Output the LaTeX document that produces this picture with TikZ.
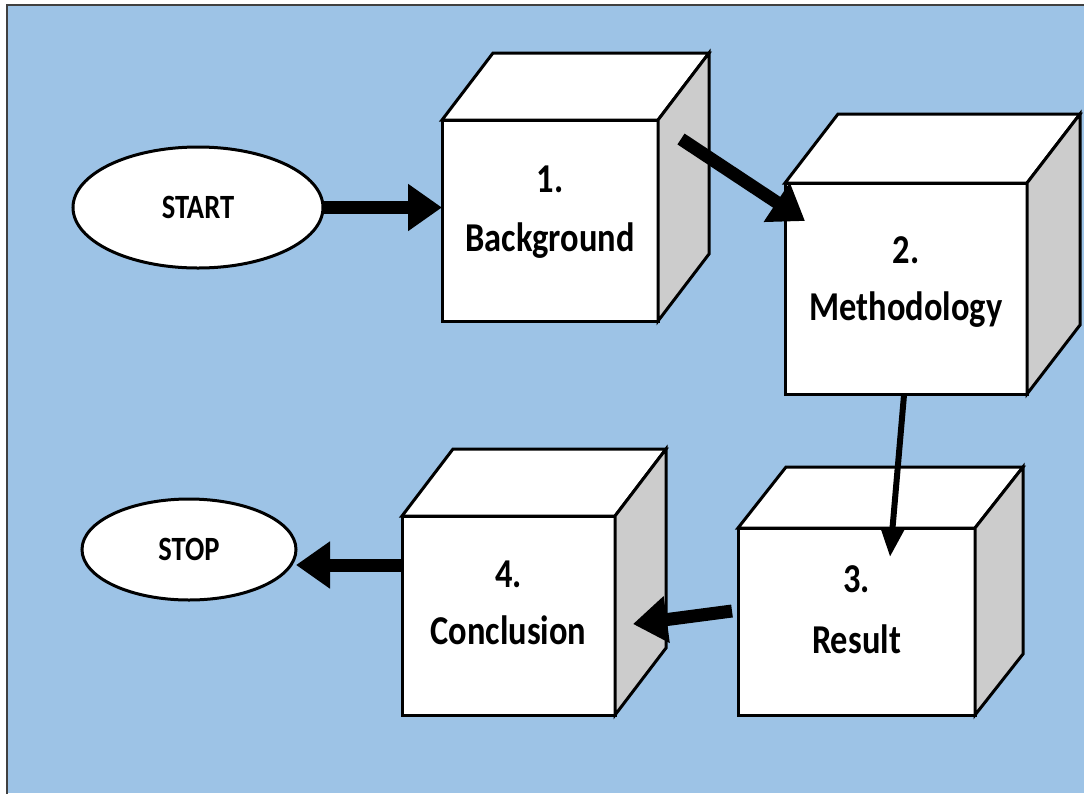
\documentclass[tikz,border=0pt]{standalone}
\usepackage{fontspec}
\newfontfamily\diagfont[FakeStretch=0.84]{Carlito}
\usetikzlibrary{arrows.meta,shapes.geometric,calc}

\definecolor{bgblue}{RGB}{157,195,230}
\definecolor{sidegray}{RGB}{204,204,204}
\definecolor{framegray}{RGB}{64,64,64}

\tikzset{
  frontface/.style={rectangle, draw=black, fill=white, line width=3pt, inner sep=0pt, outer sep=0pt},
  topface/.style={draw=black, fill=white, line width=3pt},
  sideface/.style={draw=black, fill=sidegray, line width=3pt},
  terminal/.style={ellipse, draw=black, fill=white, line width=3pt, inner sep=0pt, outer sep=0pt,
    font=\diagfont\bfseries\fontsize{34}{40}\selectfont},
  boxtext/.style={anchor=base, inner sep=0pt, font=\diagfont\bfseries\fontsize{41}{48}\selectfont},
  bigarrow/.style={line width=13pt, -{Triangle[length=34pt,width=45pt]}},
  thinarrow/.style={line width=6pt, -{Triangle[length=28pt,width=22pt]}},
}

% cube: name, centre x, centre y, width, height, depth dx, depth dy
\newcommand\cubebox[7]{%
  \node[frontface, minimum width=#4pt, minimum height=#5pt] (#1) at (#2,#3) {};
  \filldraw[topface] (#1.north west) -- ++(#6,#7) -- ($(#1.north east)+(#6,#7)$) -- (#1.north east) -- cycle;
  \filldraw[sideface] (#1.north east) -- ++(#6,#7) -- ($(#1.south east)+(#6,#7)$) -- (#1.south east) -- cycle;
}

\begin{document}
\begin{tikzpicture}[x=1pt,y=-1pt]
  \useasboundingbox (0,0) rectangle (1084,793);

  % panel
  \fill[bgblue] (7,5) rectangle (1084,793);
  \draw[framegray, line width=2pt] (7,794) -- (7,5) -- (1085,5);

  % terminals
  \node[terminal, minimum width=250pt, minimum height=121pt] (start) at (198,207.5) {START};
  \node[terminal, minimum width=214pt, minimum height=101pt] (stop) at (189,549.5) {STOP};

  % process cubes
  \cubebox{b1}{550}{220.5}{216}{201}{51}{-67}
  \cubebox{b2}{906}{288.5}{242}{211}{53}{-69}
  \cubebox{b3}{856.5}{621.5}{237}{187}{48}{-61}
  \cubebox{b4}{508.5}{615.5}{213}{199}{51}{-67}

  \node[boxtext] (b1num) at (550,192) {1.};
  \node[boxtext] (b1txt) at (550,251) {Background};
  \node[boxtext] (b2num) at (906,263) {2.};
  \node[boxtext] (b2txt) at (906,320) {Methodology};
  \node[boxtext] (b3num) at (856.5,592) {3.};
  \node[boxtext] (b3txt) at (856.5,653) {Result};
  \node[boxtext] (b4num) at (508.5,587) {4.};
  \node[boxtext] (b4txt) at (508.5,644) {Conclusion};

  % connector ends
  \coordinate (a12s) at (681,139);
  \coordinate (a12e) at (805,221);
  \coordinate (a23s) at (904,395);
  \coordinate (a23e) at (890,557);
  \coordinate (a34s) at (732,611);
  \coordinate (a34e) at (633,624);
  \coordinate (a45s) at (403,565);
  \coordinate (a45e) at (296,565);

  % flow
  \draw[bigarrow] (start.east) -- (start.east -| b1.west);
  \draw[bigarrow] (a12s) -- (a12e);
  \draw[thinarrow] (a23s) -- (a23e);
  \draw[bigarrow] (a34s) -- (a34e);
  \draw[bigarrow] (a45s) -- (a45e);
\end{tikzpicture}
\end{document}
